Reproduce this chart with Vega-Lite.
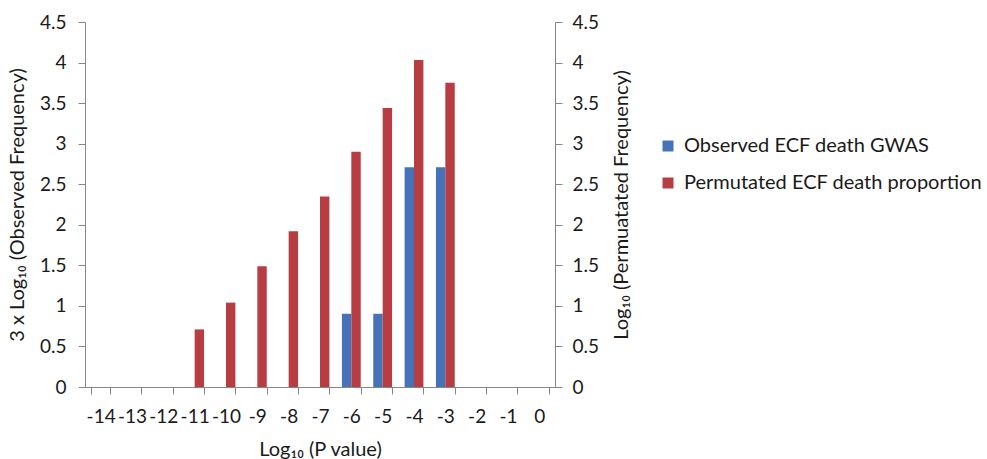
{
  "$schema": "https://vega.github.io/schema/vega-lite/v6.json",
  "autosize": {"type": "none"},
  "width": 470,
  "height": 365,
  "padding": {"left": 85, "top": 22, "right": 432, "bottom": 72},
  "background": "white",
  "config": {
    "font": "Lato",
    "view": {"stroke": null},
    "axis": {
      "domainColor": "#868686",
      "tickColor": "#868686",
      "labelColor": "#1a1a1a",
      "titleColor": "#1a1a1a",
      "labelFont": "Lato",
      "titleFont": "Lato",
      "labelFontSize": 19,
      "titleFontSize": 20,
      "titleFontWeight": "normal",
      "grid": false,
      "tickSize": 7
    },
    "legend": {
      "labelFont": "Lato",
      "labelFontSize": 20,
      "labelColor": "#1a1a1a",
      "labelLimit": 0
    }
  },
  "data": {
    "values": [
      {"p": -6, "series": "Observed ECF death GWAS", "value": 0.903},
      {"p": -5, "series": "Observed ECF death GWAS", "value": 0.903},
      {"p": -4, "series": "Observed ECF death GWAS", "value": 2.709},
      {"p": -3, "series": "Observed ECF death GWAS", "value": 2.709},
      {"p": -11, "series": "Permutated ECF death proportion", "value": 0.71},
      {"p": -10, "series": "Permutated ECF death proportion", "value": 1.04},
      {"p": -9, "series": "Permutated ECF death proportion", "value": 1.49},
      {"p": -8, "series": "Permutated ECF death proportion", "value": 1.92},
      {"p": -7, "series": "Permutated ECF death proportion", "value": 2.35},
      {"p": -6, "series": "Permutated ECF death proportion", "value": 2.9},
      {"p": -5, "series": "Permutated ECF death proportion", "value": 3.44},
      {"p": -4, "series": "Permutated ECF death proportion", "value": 4.03},
      {"p": -3, "series": "Permutated ECF death proportion", "value": 3.75}
    ]
  },
  "encoding": {
    "x": {
      "field": "p",
      "type": "ordinal",
      "scale": {
        "domain": [-14, -13, -12, -11, -10, -9, -8, -7, -6, -5, -4, -3, -2, -1, 0],
        "paddingInner": 0.4,
        "paddingOuter": 0.2
      },
      "axis": {
        "title": "Log₁₀ (P value)",
        "labelAngle": 0,
        "tickBand": "extent",
        "labelPadding": 13,
        "titlePadding": 13
      }
    },
    "xOffset": {
      "field": "series",
      "type": "nominal",
      "scale": {
        "domain": ["Observed ECF death GWAS", "Permutated ECF death proportion"],
        "paddingInner": 0,
        "paddingOuter": 0
      }
    },
    "color": {
      "field": "series",
      "type": "nominal",
      "scale": {
        "domain": ["Observed ECF death GWAS", "Permutated ECF death proportion"],
        "range": ["#4672B8", "#B73D42"]
      },
      "legend": {
        "title": null,
        "orient": "none",
        "legendX": 573,
        "legendY": 114,
        "symbolType": "square",
        "symbolSize": 121,
        "symbolStrokeWidth": 0,
        "labelOffset": 6,
        "rowPadding": 17
      }
    }
  },
  "layer": [
    {
      "transform": [{"filter": "datum.series === 'Observed ECF death GWAS'"}],
      "mark": {"type": "bar"},
      "encoding": {
        "y": {
          "field": "value",
          "type": "quantitative",
          "scale": {"domain": [0, 4.5], "nice": false},
          "axis": {
            "orient": "left",
            "title": "3 x Log₁₀ (Observed  Frequency)",
            "values": [0, 0.5, 1, 1.5, 2, 2.5, 3, 3.5, 4, 4.5],
            "format": "~g",
            "labelPadding": 12,
            "titlePadding": 12
          }
        }
      }
    },
    {
      "transform": [{"filter": "datum.series === 'Permutated ECF death proportion'"}],
      "mark": {"type": "bar"},
      "encoding": {
        "y": {
          "field": "value",
          "type": "quantitative",
          "scale": {"domain": [0, 4.5], "nice": false},
          "axis": {
            "orient": "right",
            "title": "Log₁₀ (Permuatated Frequency)",
            "titleAngle": -90,
            "titleBaseline": "top",
            "values": [0, 0.5, 1, 1.5, 2, 2.5, 3, 3.5, 4, 4.5],
            "format": "~g",
            "labelPadding": 10,
            "titlePadding": 13
          }
        }
      }
    }
  ],
  "resolve": {"scale": {"y": "independent"}}
}
